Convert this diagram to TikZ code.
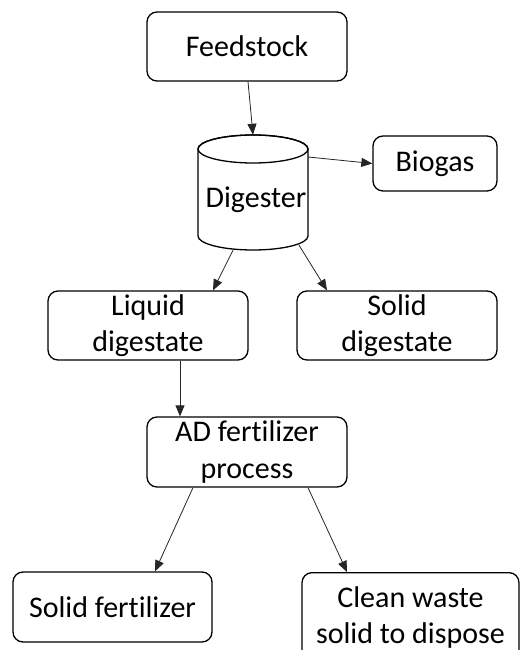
\documentclass[tikz,border=0pt]{standalone}
\usepackage{fontspec}
\setmainfont{Carlito}[RawFeature=-liga]
\usetikzlibrary{arrows.meta}
\tikzset{
  box/.style={draw=black, line width=1.3pt, rounded corners=10pt, fill=white,
    align=center, inner sep=0pt, font=\fontsize{30}{36.5}\selectfont},
  arr/.style={draw=black!85, line width=0.8pt, -{Triangle[length=11pt,width=9pt]}}
}
\begin{document}
\begin{tikzpicture}[x=1pt,y=1pt]
  \clip (0,0) rectangle (520,-650);
  \fill[white] (0,0) rectangle (520,-650);

  % process boxes
  \node[box, minimum width=200pt, minimum height=69pt] (feed) at (247,-46.5) {Feedstock};
  \node[box, minimum width=124pt, minimum height=55pt] (gas) at (435,-163.5) {Biogas};
  \node[box, minimum width=200pt, minimum height=69pt] (liq) at (148,-325.5) {Liquid\\digestate};
  \node[box, minimum width=200pt, minimum height=69pt] (sol) at (397,-325.5) {Solid\\digestate};
  \node[box, minimum width=200pt, minimum height=70pt] (adf) at (247,-452) {AD fertilizer\\process};
  \node[box, minimum width=199pt, minimum height=70pt] (sfert) at (112.5,-607) {Solid fertilizer};
  \node[box, minimum width=217pt, minimum height=90pt, anchor=north] (waste) at (410.5,-572) {Clean waste\\solid to dispose};

  % digester tank
  \draw[line width=1.3pt, fill=white]
    (198,-149) -- (198,-236) arc[start angle=180, end angle=360, x radius=55, y radius=14]
    -- (308,-149) arc[start angle=0, end angle=180, x radius=55, y radius=14] -- cycle;
  \draw[line width=1.3pt] (253,-149) ellipse[x radius=55, y radius=14];
  \node[minimum width=110pt, minimum height=115pt, inner sep=0pt] (dig) at (253,-192.5) {};
  \node[font=\fontsize{30}{36}\selectfont, anchor=base, inner sep=0pt] (diglabel) at (256,-207) {Digester};

  % flows
  \draw[arr] ([xshift=1pt]feed.south) -- (dig.north);
  \draw[arr] ([yshift=35.5pt]dig.east) -- (gas.west);
  \draw[arr] ([xshift=-20pt]dig.south) -- ([xshift=65pt]liq.north);
  \draw[arr] ([xshift=46pt,yshift=5pt]dig.south) -- ([xshift=-70pt]sol.north);
  \draw[arr] ([xshift=32pt]liq.south) -- ([xshift=-67pt]adf.north);
  \draw[arr] ([xshift=-54pt]adf.south) -- ([xshift=42.5pt]sfert.north);
  \draw[arr] ([xshift=61pt]adf.south) -- ([xshift=-63.5pt]waste.north);
\end{tikzpicture}
\end{document}
